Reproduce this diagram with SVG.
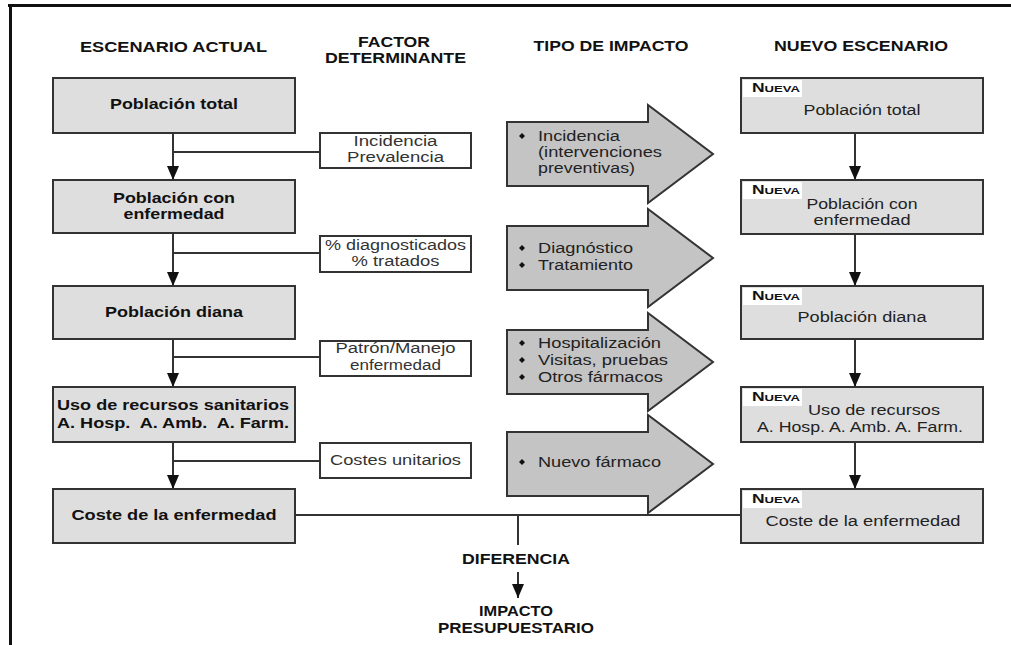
<svg xmlns="http://www.w3.org/2000/svg" width="1011" height="645" viewBox="0 0 1011 645">
<style>
text{font-family:"Liberation Sans",Arial,sans-serif;}
.hdr{font-weight:bold;font-size:14px;fill:#111;text-anchor:middle;}
.lb{fill:#dedede;stroke:#333;stroke-width:2;}
.lt{font-weight:bold;font-size:15px;fill:#111;text-anchor:middle;}
.fb{fill:#fff;stroke:#333;stroke-width:2;}
.ft{font-size:14px;fill:#333;text-anchor:middle;}
.ar{fill:#c4c4c4;stroke:#333;stroke-width:2;}
.at{font-size:14px;fill:#222;}
.rt{font-size:14px;fill:#222;text-anchor:middle;}
.nv{font-weight:bold;fill:#111;}
.lab{fill:#fff;}
.ln{stroke:#333;stroke-width:2;fill:none;}
.bt{font-weight:bold;font-size:14px;fill:#111;text-anchor:middle;}
</style>
<defs>
<marker id="ah" markerUnits="userSpaceOnUse" markerWidth="14" markerHeight="12" refX="14" refY="6" orient="auto">
<path d="M0,0 L14,6 L0,12 z" fill="#111"/>
</marker>
<path id="dia" d="M0,-3 L3,0 L0,3 L-3,0 z" fill="#111"/>
</defs>
<rect x="0" y="0" width="1011" height="645" fill="#fff"/>
<g id="frame">
<rect x="8" y="4" width="1003" height="3" fill="#111"/>
<rect x="9" y="4" width="3" height="641" fill="#111"/>
</g>
<g id="headers">
<text class="hdr" x="173.5" y="52" textLength="187" lengthAdjust="spacingAndGlyphs">ESCENARIO ACTUAL</text>
<text class="hdr" x="394" y="47" textLength="72" lengthAdjust="spacingAndGlyphs">FACTOR</text>
<text class="hdr" x="395.5" y="63" textLength="141" lengthAdjust="spacingAndGlyphs">DETERMINANTE</text>
<text class="hdr" x="611" y="51" textLength="155" lengthAdjust="spacingAndGlyphs">TIPO DE IMPACTO</text>
<text class="hdr" x="861" y="51" textLength="174" lengthAdjust="spacingAndGlyphs">NUEVO ESCENARIO</text>
</g>
<g id="connectors">
<line class="ln" x1="173" y1="133" x2="173" y2="180" marker-end="url(#ah)"/>
<line class="ln" x1="173" y1="233" x2="173" y2="286" marker-end="url(#ah)"/>
<line class="ln" x1="173" y1="339" x2="173" y2="387" marker-end="url(#ah)"/>
<line class="ln" x1="173" y1="442" x2="173" y2="489" marker-end="url(#ah)"/>
<line class="ln" x1="173" y1="152" x2="320" y2="152"/>
<line class="ln" x1="173" y1="253" x2="320" y2="253"/>
<line class="ln" x1="173" y1="357" x2="320" y2="357"/>
<line class="ln" x1="173" y1="461" x2="320" y2="461"/>
<line class="ln" x1="855" y1="133" x2="855" y2="180" marker-end="url(#ah)"/>
<line class="ln" x1="855" y1="234" x2="855" y2="286" marker-end="url(#ah)"/>
<line class="ln" x1="855" y1="339" x2="855" y2="387" marker-end="url(#ah)"/>
<line class="ln" x1="855" y1="442" x2="855" y2="489" marker-end="url(#ah)"/>
<line class="ln" x1="295" y1="515" x2="741" y2="515"/>
<line class="ln" x1="518" y1="515" x2="518" y2="545"/>
<line class="ln" x1="518" y1="572" x2="518" y2="598" marker-end="url(#ah)"/>
</g>
<g id="left1"><rect class="lb" x="53" y="78" width="242" height="55"/><text class="lt" x="174" y="109" textLength="128" lengthAdjust="spacingAndGlyphs">Población total</text></g>
<g id="left2"><rect class="lb" x="53" y="180" width="242" height="53"/><text class="lt" x="174" y="203" textLength="122" lengthAdjust="spacingAndGlyphs">Población con</text><text class="lt" x="174" y="219" textLength="101" lengthAdjust="spacingAndGlyphs">enfermedad</text></g>
<g id="left3"><rect class="lb" x="53" y="286" width="242" height="53"/><text class="lt" x="174" y="317" textLength="138" lengthAdjust="spacingAndGlyphs">Población diana</text></g>
<g id="left4"><rect class="lb" x="53" y="387" width="242" height="55"/><text class="lt" x="173" y="410" textLength="232" lengthAdjust="spacingAndGlyphs">Uso de recursos sanitarios</text><text class="lt" x="173" y="428" textLength="232" lengthAdjust="spacingAndGlyphs">A. Hosp.&#160; A. Amb.&#160; A. Farm.</text></g>
<g id="left5"><rect class="lb" x="53" y="489" width="242" height="54"/><text class="lt" x="174" y="520" textLength="205" lengthAdjust="spacingAndGlyphs">Coste de la enfermedad</text></g>
<g id="factor1"><rect class="fb" x="320" y="133" width="151" height="35"/><text class="ft" x="395.5" y="146" textLength="84" lengthAdjust="spacingAndGlyphs">Incidencia</text><text class="ft" x="395.5" y="162" textLength="97" lengthAdjust="spacingAndGlyphs">Prevalencia</text></g>
<g id="factor2"><rect class="fb" x="320" y="236" width="151" height="36"/><text class="ft" x="395.5" y="250" textLength="141" lengthAdjust="spacingAndGlyphs">% diagnosticados</text><text class="ft" x="395.5" y="266" textLength="88" lengthAdjust="spacingAndGlyphs">% tratados</text></g>
<g id="factor3"><rect class="fb" x="320" y="341" width="151" height="35"/><text class="ft" x="395.5" y="353" textLength="120" lengthAdjust="spacingAndGlyphs">Patrón/Manejo</text><text class="ft" x="395.5" y="370" textLength="91" lengthAdjust="spacingAndGlyphs">enfermedad</text></g>
<g id="factor4"><rect class="fb" x="320" y="443" width="151" height="35"/><text class="ft" x="395.5" y="465" textLength="131" lengthAdjust="spacingAndGlyphs">Costes unitarios</text></g>
<g id="impact1"><path class="ar" d="M507,122 L648,122 L648,105 L713,154 L648,203 L648,186 L507,186 z"/>
<use href="#dia" x="522" y="136"/>
<text class="at" x="538" y="141" textLength="82" lengthAdjust="spacingAndGlyphs">Incidencia</text>
<text class="at" x="538" y="157" textLength="124" lengthAdjust="spacingAndGlyphs">(intervenciones</text>
<text class="at" x="538" y="173" textLength="97" lengthAdjust="spacingAndGlyphs">preventivas)</text></g>
<g id="impact2"><path class="ar" d="M507,226 L648,226 L648,209 L713,258 L648,307 L648,290 L507,290 z"/>
<use href="#dia" x="522" y="248"/>
<text class="at" x="538" y="253" textLength="95" lengthAdjust="spacingAndGlyphs">Diagnóstico</text>
<use href="#dia" x="522" y="265"/>
<text class="at" x="538" y="270" textLength="95" lengthAdjust="spacingAndGlyphs">Tratamiento</text></g>
<g id="impact3"><path class="ar" d="M507,330 L648,330 L648,313 L713,362 L648,411 L648,394 L507,394 z"/>
<use href="#dia" x="522" y="343"/>
<text class="at" x="538" y="348" textLength="123" lengthAdjust="spacingAndGlyphs">Hospitalización</text>
<use href="#dia" x="522" y="360"/>
<text class="at" x="538" y="365" textLength="130" lengthAdjust="spacingAndGlyphs">Visitas, pruebas</text>
<use href="#dia" x="522" y="377"/>
<text class="at" x="538" y="382" textLength="125" lengthAdjust="spacingAndGlyphs">Otros fármacos</text></g>
<g id="impact4"><path class="ar" d="M507,432 L648,432 L648,415 L713,464 L648,513 L648,496 L507,496 z"/>
<use href="#dia" x="522" y="462"/>
<text class="at" x="538" y="467" textLength="123" lengthAdjust="spacingAndGlyphs">Nuevo fármaco</text></g>
<g id="new1"><rect class="lb" x="741" y="78" width="242" height="55"/><rect class="lab" x="743" y="80" width="59" height="17"/><text class="nv" x="752" y="92" textLength="48" lengthAdjust="spacingAndGlyphs"><tspan font-size="12">N</tspan><tspan font-size="9">UEVA</tspan></text><text class="rt" x="862" y="115" textLength="117" lengthAdjust="spacingAndGlyphs">Población total</text></g>
<g id="new2"><rect class="lb" x="741" y="180" width="242" height="54"/><rect class="lab" x="743" y="182" width="59" height="17"/><text class="nv" x="752" y="194" textLength="48" lengthAdjust="spacingAndGlyphs"><tspan font-size="12">N</tspan><tspan font-size="9">UEVA</tspan></text><text class="rt" x="862" y="209" textLength="111" lengthAdjust="spacingAndGlyphs">Población con</text><text class="rt" x="862" y="225" textLength="97" lengthAdjust="spacingAndGlyphs">enfermedad</text></g>
<g id="new3"><rect class="lb" x="741" y="286" width="242" height="53"/><rect class="lab" x="743" y="288" width="59" height="17"/><text class="nv" x="752" y="300" textLength="48" lengthAdjust="spacingAndGlyphs"><tspan font-size="12">N</tspan><tspan font-size="9">UEVA</tspan></text><text class="rt" x="862" y="322" textLength="129" lengthAdjust="spacingAndGlyphs">Población diana</text></g>
<g id="new4"><rect class="lb" x="741" y="387" width="242" height="55"/><rect class="lab" x="743" y="389" width="59" height="17"/><text class="nv" x="752" y="401" textLength="48" lengthAdjust="spacingAndGlyphs"><tspan font-size="12">N</tspan><tspan font-size="9">UEVA</tspan></text><text class="rt" x="874" y="415" textLength="132" lengthAdjust="spacingAndGlyphs">Uso de recursos</text><text class="rt" x="860" y="432" textLength="206" lengthAdjust="spacingAndGlyphs">A. Hosp. A. Amb. A. Farm.</text></g>
<g id="new5"><rect class="lb" x="741" y="489" width="242" height="54"/><rect class="lab" x="743" y="491" width="59" height="17"/><text class="nv" x="752" y="503" textLength="48" lengthAdjust="spacingAndGlyphs"><tspan font-size="12">N</tspan><tspan font-size="9">UEVA</tspan></text><text class="rt" x="863" y="526" textLength="195" lengthAdjust="spacingAndGlyphs">Coste de la enfermedad</text></g>
<g id="result">
<text class="bt" x="516" y="564" textLength="108" lengthAdjust="spacingAndGlyphs">DIFERENCIA</text>
<text class="bt" x="516" y="616" textLength="74" lengthAdjust="spacingAndGlyphs">IMPACTO</text>
<text class="bt" x="516" y="633" textLength="156" lengthAdjust="spacingAndGlyphs">PRESUPUESTARIO</text>
</g>
</svg>
